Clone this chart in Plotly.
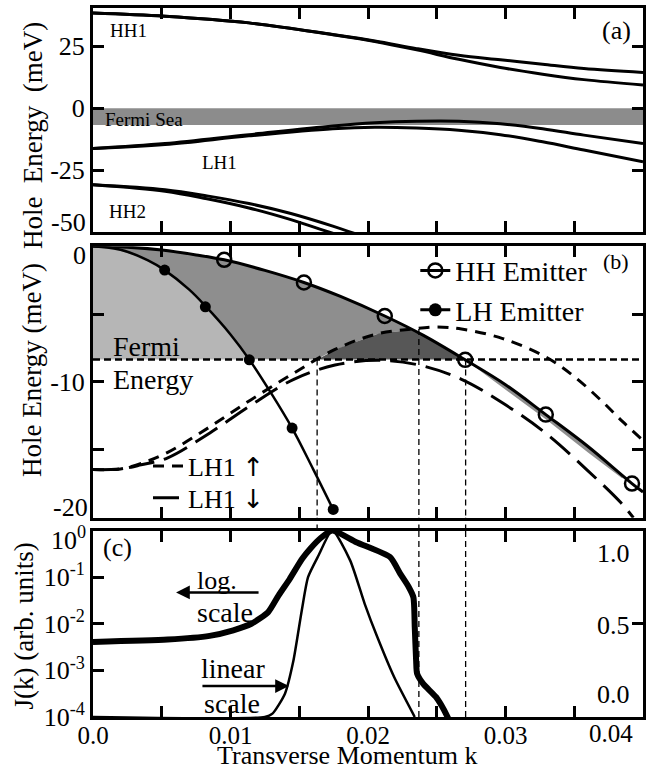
import numpy as np
import plotly.graph_objects as go

FONT = "Liberation Serif, DejaVu Serif, serif"

# ---------------- data: panel (a) subband dispersions ----------------
K_A = [0.0, 0.00524, 0.01134, 0.01744, 0.0205, 0.02354, 0.0266, 0.02963, 0.0327, 0.0357, 0.04]
HH1_UP = [38.4, 37.1, 34.4, 29.7, 27.1, 24.0, 21.3, 19.5, 17.7, 16.0, 14.4]
HH1_DN = [38.4, 37.1, 34.4, 29.6, 26.9, 23.5, 19.7, 16.4, 13.7, 11.5, 9.3]
LH1_UP_A = [-16.3, -14.3, -10.7, -7.2, -5.9, -5.3, -5.3, -6.3, -8.3, -10.9, -14.3]
LH1_DN_A = [-16.3, -14.7, -11.2, -8.3, -7.7, -8.0, -8.9, -10.7, -13.6, -16.9, -21.6]
K_HH2_UP = [0.0, 0.00524, 0.00829, 0.01134, 0.01439, 0.01744, 0.0195]
HH2_UP = [-30.9, -32.9, -35.4, -38.5, -42.5, -47.6, -51.5]
K_HH2_DN = [0.0, 0.00524, 0.00829, 0.01134, 0.01439, 0.0165, 0.018]
HH2_DN = [-30.9, -33.5, -36.6, -40.3, -45.0, -48.8, -51.5]
FERMI_SEA = [0.0, -6.8]          # top / bottom of the Fermi sea band (meV)

# ---------------- data: panel (b) emitter bands ----------------
E_FERMI = -8.35
K_HH = [0.0, 0.0025, 0.005, 0.0075, 0.00954, 0.0125, 0.01534, 0.018, 0.02122, 0.024, 0.02707,
        0.030, 0.03293, 0.036, 0.0392, 0.04]
E_HH = [0.0, -0.07, -0.28, -0.64, -1.0, -1.78, -2.67, -3.7, -5.14, -6.55, -8.37,
        -10.2, -12.4, -14.75, -17.48, -18.1]
HH_MARK_K = [0.00954, 0.01534, 0.02122, 0.02707, 0.03293, 0.0392]
HH_MARK_E = [-1.0, -2.67, -5.14, -8.37, -12.4, -17.48]

K_LH = [0.0, 0.002, 0.004, 0.00521, 0.007, 0.00817, 0.010, 0.01137, 0.013, 0.01448, 0.016, 0.01747]
E_LH = [0.0, -0.26, -1.04, -1.76, -3.2, -4.4, -6.5, -8.35, -10.9, -13.4, -16.4, -19.4]
LH_MARK_K = [0.00521, 0.00817, 0.01137, 0.01448, 0.01747]
LH_MARK_E = [-1.76, -4.46, -8.37, -13.39, -19.39]

K_UP = [0.0, 0.002, 0.0035, 0.0054, 0.0085, 0.0115, 0.0146, 0.0176, 0.0207, 0.0232, 0.025,
        0.0268, 0.0298, 0.033, 0.035, 0.037, 0.0385, 0.04]
E_UP = [-16.45, -16.4, -16.0, -15.2, -13.3, -11.3, -9.35, -7.6, -6.45, -6.1, -5.95,
        -6.1, -6.8, -8.2, -9.6, -11.4, -12.9, -14.3]
K_DN = [0.0, 0.002, 0.0035, 0.0054, 0.0085, 0.0115, 0.0146, 0.0176, 0.0207, 0.0237, 0.0268,
        0.0298, 0.0329, 0.0359, 0.0384, 0.0393]
E_DN = [-16.45, -16.4, -16.1, -15.6, -13.75, -11.7, -9.8, -8.75, -8.4, -8.75, -9.8,
        -11.55, -13.75, -16.45, -18.9, -20.0]

SLIVER_K = [0.02707, 0.030, 0.033, 0.036, 0.0385]
SLIVER_E = [-8.37, -10.55, -12.8, -15.2, -17.1]

K_CROSS = [0.0163, 0.0237, 0.0271]       # vertical guide lines
E_CROSS = [-8.35, -6.1, -8.35]
CROSS_INTO_C = [False, True, True]

# ---------------- data: panel (c) current distribution ----------------
LOG_K = [0.0, 0.00543, 0.00848, 0.0102, 0.01152, 0.01274, 0.0135, 0.0143, 0.0152, 0.0158,
         0.0166, 0.0174, 0.01915, 0.0216, 0.02235, 0.02296, 0.0233, 0.0234, 0.0235, 0.02357,
         0.02402, 0.02494, 0.02555, 0.02585]
LOG_J = [-2.39, -2.34, -2.26, -2.14, -2.0, -1.75, -1.39, -1.04, -0.61, -0.39,
         -0.15, 0.0, -0.25, -0.57, -0.93, -1.21, -1.43, -2.07, -2.79, -3.07,
         -3.29, -3.57, -3.86, -4.04]
LIN_K = [0.0, 0.0125, 0.01305, 0.01396, 0.01457, 0.01518, 0.01564, 0.0164, 0.0174,
         0.0187, 0.01976, 0.02067, 0.0219, 0.0234]
LIN_J = [0.0, 0.0, 0.018, 0.125, 0.30, 0.57, 0.75, 0.866, 1.0,
         0.84, 0.607, 0.43, 0.214, 0.0]

K_RANGE = [0.0, 0.04]
X_TICKS = [0.0, 0.005, 0.01, 0.015, 0.02, 0.025, 0.03, 0.035, 0.04]
X_TICKTEXT = ["0.0", "", "0.01", "", "0.02", "", "0.03", "", ""]

# ---------------- layout geometry ----------------
W, H = 652, 772
ML, MR, MT, MB = 93, 9, 5, 55
DOM_A = [0.684, 1.0]
DOM_B = [0.281, 0.664]
DOM_C = [0.0, 0.263]

LIGHT, MED, DARK, SEA = "#b6b6b6", "#8e8e8e", "#575757", "#8c8c8c"
UP_ARROW = '<span style="font-family:DejaVu Sans">\u2191\ufe0e</span>'
DN_ARROW = '<span style="font-family:DejaVu Sans">\u2193\ufe0e</span>'

fig = go.Figure()

# ----- panel (a)
fig.add_shape(type="rect", xref="x domain", yref="y", x0=0, x1=1,
              y0=FERMI_SEA[1], y1=FERMI_SEA[0], fillcolor=SEA, line_width=0, layer="below")
for kk, ee in [(K_A, HH1_UP), (K_A, HH1_DN), (K_A, LH1_UP_A), (K_A, LH1_DN_A),
               (K_HH2_UP, HH2_UP), (K_HH2_DN, HH2_DN)]:
    fig.add_trace(go.Scatter(x=kk, y=ee, mode="lines", line=dict(color="black", width=3, shape="spline"),
                             xaxis="x", yaxis="y", showlegend=False, hoverinfo="skip"))

# ----- panel (b) fills
kg = np.linspace(K_RANGE[0], K_RANGE[1], 801)
hh = np.interp(kg, K_HH, E_HH)
lh = np.interp(kg, K_LH, E_LH, right=-99.0)
up = np.interp(kg, K_UP, E_UP)

m = lh >= E_FERMI
fig.add_trace(go.Scatter(x=np.concatenate([kg[m], kg[m][::-1]]),
                         y=np.concatenate([lh[m], np.full(m.sum(), E_FERMI)]),
                         fill="toself", fillcolor=LIGHT, line_width=0, mode="lines",
                         xaxis="x2", yaxis="y2", showlegend=False, hoverinfo="skip"))
lower = np.maximum(np.maximum(lh, E_FERMI), up)
m = (hh >= lower) & (kg < 0.0235)
fig.add_trace(go.Scatter(x=np.concatenate([kg[m], kg[m][::-1]]),
                         y=np.concatenate([hh[m], lower[m][::-1]]),
                         fill="toself", fillcolor=MED, line_width=0, mode="lines",
                         xaxis="x2", yaxis="y2", showlegend=False, hoverinfo="skip"))
upper = np.minimum(up, hh)
m = upper > E_FERMI
fig.add_trace(go.Scatter(x=np.concatenate([kg[m], kg[m][::-1]]),
                         y=np.concatenate([upper[m], np.full(m.sum(), E_FERMI)]),
                         fill="toself", fillcolor=DARK, line_width=0, mode="lines",
                         xaxis="x2", yaxis="y2", showlegend=False, hoverinfo="skip"))
hs = np.interp(SLIVER_K, K_HH, E_HH)
fig.add_trace(go.Scatter(x=SLIVER_K + SLIVER_K[::-1], y=list(SLIVER_E) + list(hs[::-1]),
                         fill="toself", fillcolor=MED, line_width=0, mode="lines",
                         xaxis="x2", yaxis="y2", showlegend=False, hoverinfo="skip"))

# Fermi energy line
fig.add_trace(go.Scatter(x=K_RANGE, y=[E_FERMI, E_FERMI], mode="lines",
                         line=dict(color="black", width=2.5, dash="7px,4px"),
                         xaxis="x2", yaxis="y2", showlegend=False, hoverinfo="skip"))
# LH1 spin bands
fig.add_trace(go.Scatter(x=K_UP, y=E_UP, mode="lines", name="LH1 " + UP_ARROW,
                         line=dict(color="black", width=3, dash="11px,8px", shape="spline"),
                         xaxis="x2", yaxis="y2", legend="legend2", hoverinfo="skip"))
fig.add_trace(go.Scatter(x=K_DN, y=E_DN, mode="lines", name="LH1 " + DN_ARROW,
                         line=dict(color="black", width=3, dash="26px,10px", shape="spline"),
                         xaxis="x2", yaxis="y2", legend="legend3", hoverinfo="skip"))
# emitter bands
fig.add_trace(go.Scatter(x=K_HH, y=E_HH, mode="lines", line=dict(color="black", width=3, shape="spline"),
                         xaxis="x2", yaxis="y2", showlegend=False, hoverinfo="skip"))
fig.add_trace(go.Scatter(x=K_LH, y=E_LH, mode="lines", line=dict(color="black", width=2.5, shape="spline"),
                         xaxis="x2", yaxis="y2", showlegend=False, hoverinfo="skip"))
fig.add_trace(go.Scatter(x=HH_MARK_K, y=HH_MARK_E, mode="markers",
                         marker=dict(symbol="circle-open", size=14, color="black", line=dict(width=2.5)),
                         xaxis="x2", yaxis="y2", showlegend=False, hoverinfo="skip", cliponaxis=False))
fig.add_trace(go.Scatter(x=LH_MARK_K, y=LH_MARK_E, mode="markers",
                         marker=dict(symbol="circle", size=11, color="black"),
                         xaxis="x2", yaxis="y2", showlegend=False, hoverinfo="skip", cliponaxis=False))
# legend entries for emitters
fig.add_trace(go.Scatter(x=[None], y=[None], mode="lines+markers", name="HH Emitter",
                         line=dict(color="black", width=3),
                         marker=dict(symbol="circle-open", size=14, color="black", line=dict(width=2.5)),
                         xaxis="x2", yaxis="y2", legend="legend"))
fig.add_trace(go.Scatter(x=[None], y=[None], mode="lines+markers", name="LH Emitter",
                         line=dict(color="black", width=3),
                         marker=dict(symbol="circle", size=13, color="black"),
                         xaxis="x2", yaxis="y2", legend="legend"))

# ----- panel (c)
fig.add_trace(go.Scatter(x=LOG_K, y=[10 ** v for v in LOG_J], mode="lines",
                         line=dict(color="black", width=6, shape="spline", smoothing=0.6),
                         xaxis="x3", yaxis="y3", showlegend=False, hoverinfo="skip"))
fig.add_trace(go.Scatter(x=LIN_K, y=LIN_J, mode="lines",
                         line=dict(color="black", width=2.5, shape="spline", smoothing=0.6),
                         xaxis="x3", yaxis="y4", showlegend=False, hoverinfo="skip"))

# vertical guide lines
for kc, ec, into_c in zip(K_CROSS, E_CROSS, CROSS_INTO_C):
    style = dict(color="black", width=1.3, dash="6px,4px")
    fig.add_shape(type="line", xref="x2", yref="y2", x0=kc, x1=kc, y0=ec, y1=-20, line=style)
    fig.add_shape(type="line", xref="x2", yref="paper", x0=kc, x1=kc, y0=DOM_C[1], y1=DOM_B[0], line=style)
    if into_c:
        fig.add_shape(type="line", xref="x3", yref="y3 domain", x0=kc, x1=kc, y0=0, y1=1, line=style)

# ----- axes
tick_font = dict(family=FONT, size=26, color="black")
common = dict(showline=True, linewidth=3, linecolor="black", mirror="ticks", ticks="inside",
              ticklen=11, tickwidth=3, tickcolor="black", showgrid=False, zeroline=False,
              tickfont=tick_font)
fig.update_layout(
    xaxis=dict(common, domain=[0, 1], range=K_RANGE, anchor="y", tickvals=X_TICKS, showticklabels=False),
    yaxis=dict(common, domain=DOM_A, range=[-50, 40.4], anchor="x",
               tickvals=[-50, -25, 0, 25], ticktext=["", "-25", "0", "25"]),
    xaxis2=dict(common, domain=[0, 1], range=K_RANGE, anchor="y2", tickvals=X_TICKS, showticklabels=False),
    yaxis2=dict(common, domain=DOM_B, range=[-20, 0], anchor="x2",
                tickvals=[-20, -15, -10, -5, 0], ticktext=["", "", "-10", "", ""]),
    xaxis3=dict(common, domain=[0, 1], range=K_RANGE, anchor="y3", tickvals=X_TICKS, ticktext=X_TICKTEXT,
                tickfont=dict(family=FONT, size=25, color="black"), ticklabelstandoff=-6),
    yaxis3=dict(common, domain=DOM_C, type="log", range=[-4, 0], anchor="x3", mirror=True,
                tickvals=[1e-4, 1e-3, 1e-2, 1e-1, 1],
                ticktext=["10<sup>-4</sup>", "10<sup>-3</sup>", "10<sup>-2</sup>", "10<sup>-1</sup>", ""]),
    yaxis4=dict(showline=False, showgrid=False, zeroline=False, overlaying="y3", side="right",
                anchor="x3", range=[0, 1], ticks="inside", ticklen=11, tickwidth=3, tickcolor="black",
                tickvals=[0, 0.5, 1], showticklabels=False),
)

ann = []
def txt(x, y, s, size, xref, yref, xanchor="center", yanchor="middle", **kw):
    ann.append(dict(x=x, y=y, xref=xref, yref=yref, text=s, showarrow=False,
                    xanchor=xanchor, yanchor=yanchor,
                    font=dict(family=FONT, size=size, color="black"), **kw))

# edge tick labels nudged inside their panel (as in the original figure)
txt(0, -50, "-50", 26, "paper", "y", xanchor="right", xshift=-5, yshift=10)
txt(0, 0, "0", 26, "paper", "y2", xanchor="right", xshift=-5, yshift=-9)
txt(0, -20, "-20", 26, "paper", "y2", xanchor="right", xshift=-3, yshift=10)
txt(0, 1.0, "10<sup>0</sup>", 26, "paper", "y4", xanchor="right", xshift=-5, yshift=-8)

# panel (a) labels
txt(0.00255, 31.2, "HH1", 19, "x", "y")
txt(0.0007, -4.4, "Fermi Sea", 19, "x", "y", xanchor="left")
txt(0.0092, -22.0, "LH1", 19, "x", "y")
txt(0.0025, -41.6, "HH2", 19, "x", "y")
txt(0.0381, 31.2, "(a)", 26, "x", "y")
# panel (b) labels
txt(0.0013, -7.4, "Fermi", 28, "x2", "y2", xanchor="left")
txt(0.0013, -9.8, "Energy", 28, "x2", "y2", xanchor="left")
txt(0.0380, -1.15, "(b)", 22, "x2", "y2")
# panel (c) labels
txt(0.0018, 0.909, "(c)", 26, "x3", "y4")
txt(0.0090, 0.73, "log.", 26, "x3", "y4")
txt(0.0096, 0.56, "scale", 28, "x3", "y4")
txt(0.0102, 0.262, "linear", 28, "x3", "y4")
txt(0.0101, 0.07, "scale", 28, "x3", "y4")
for yv, s, ya, ys in [(1.0, "1.0", "top", -6), (0.5, "0.5", "middle", -2), (0.0, "0.0", "bottom", 6)]:
    txt(1, yv, s, 26, "x3 domain", "y4", xanchor="right", yanchor=ya, xshift=-11, yshift=ys)
# arrows
for head, tail, yy in [(0.00604, 0.01215, 0.668), (0.01425, 0.00785, 0.166)]:
    ann.append(dict(x=head, y=yy, ax=tail, ay=yy, xref="x3", yref="y4", axref="x3", ayref="y4",
                    text="", showarrow=True, arrowhead=2, arrowsize=1.1, arrowwidth=2.5, arrowcolor="black"))
# x tick label at right end and axis titles
txt(0.04, 0, "0.04", 25, "x3", "paper", xanchor="right", yanchor="top", xshift=-8, yshift=-1)
txt(0.4618, 0, "Transverse Momentum k", 26, "paper", "paper", yanchor="bottom", yshift=-55)
txt(-0.11, 0.820, "Hole  Energy  (meV)", 27, "paper", "paper", textangle=-90)
txt(-0.112, 0.490, "Hole Energy (meV)", 27, "paper", "paper", textangle=-90)
txt(-0.125, 0.128, "J(k) (arb. units)", 27, "paper", "paper", textangle=-90)

fig.update_layout(
    annotations=ann,
    width=W, height=H, margin=dict(l=ML, r=MR, t=MT, b=MB),
    paper_bgcolor="white", plot_bgcolor="white",
    font=dict(family=FONT, size=26, color="black"),
    legend=dict(x=0.586, y=0.602, xanchor="left", yanchor="middle", bgcolor="rgba(0,0,0,0)",
                font=dict(family=FONT, size=28), itemwidth=30, tracegroupgap=0),
    legend2=dict(x=0.10, y=0.354, xanchor="left", yanchor="middle", bgcolor="rgba(0,0,0,0)",
                 font=dict(family=FONT, size=26), itemwidth=30),
    legend3=dict(x=0.10, y=0.309, xanchor="left", yanchor="middle", bgcolor="rgba(0,0,0,0)",
                 font=dict(family=FONT, size=26), itemwidth=30),
)

# remove the browser's default 8px page margin so the 652x772 figure fills the window exactly
fig.write_html("out.html", config={"displayModeBar": False},
               post_script="document.body.style.margin='0px';")
